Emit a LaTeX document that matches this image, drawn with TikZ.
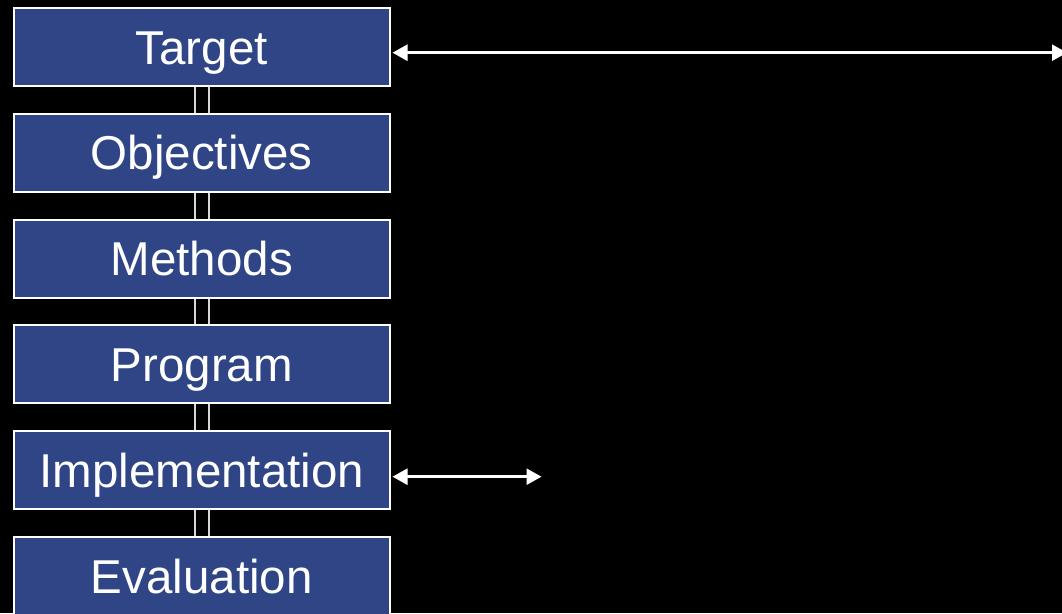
\documentclass[tikz,border=0pt]{standalone}
\usepackage{fontspec}
\setmainfont{Liberation Sans}
\usetikzlibrary{arrows.meta}
\definecolor{boxblue}{RGB}{47,69,134}
\definecolor{linkgray}{RGB}{215,215,215}
\tikzset{
  stagebox/.style={draw=white, line width=2pt, fill=boxblue, text=white,
    minimum width=376.5pt, minimum height=78pt, inner sep=0pt,
    text height=34pt, text depth=0pt,
    font=\fontsize{47.5}{57}\selectfont},
  link/.style={draw=linkgray, line width=2pt, double=black, double distance=12pt},
  biarrow/.style={draw=white, line width=2.5pt,
    {Triangle[length=15pt,width=16pt]}-{Triangle[length=15pt,width=16pt]}}
}
\begin{document}
\begin{tikzpicture}[x=1pt,y=-1pt]
\fill[black] (0,0) rectangle (1062,613);
\useasboundingbox (0,0) rectangle (1062,613);
\clip (0,0) rectangle (1062,613);
\node[stagebox] (tar) at (201.75,47) {Target};
\node[stagebox] (obj) at (201.75,152.8) {Objectives};
\node[stagebox] (met) at (201.75,258.6) {Methods};
\node[stagebox] (pro) at (201.75,364.4) {Program};
\node[stagebox] (imp) at (201.75,470.2) {Implementation};
\node[stagebox] (eva) at (201.75,576) {Evaluation};
\draw[link] (tar.south) -- (obj.north);
\draw[link] (obj.south) -- (met.north);
\draw[link] (met.south) -- (pro.north);
\draw[link] (pro.south) -- (imp.north);
\draw[link] (imp.south) -- (eva.north);
\coordinate (tarend) at (1067,52.7);
\coordinate (impend) at (541.5,476.7);
\draw[biarrow] ([xshift=1.5pt,yshift=-5.7pt]tar.east) -- (tarend);
\draw[biarrow] ([xshift=1.5pt,yshift=-6.5pt]imp.east) -- (impend);
\end{tikzpicture}
\end{document}
